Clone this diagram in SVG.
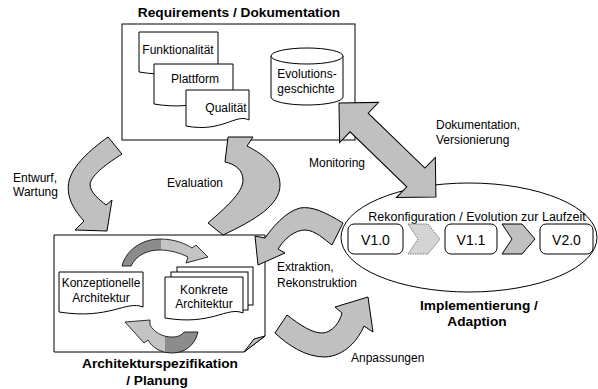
<svg xmlns="http://www.w3.org/2000/svg" width="598" height="389" viewBox="0 0 598 389">
<style>
.box{fill:#fff;stroke:#000;stroke-width:1}
.arr{fill:#c0c0c0;stroke:#000;stroke-width:1;stroke-linejoin:miter}
.t{font-family:"Liberation Sans",Arial,sans-serif;font-size:12px;fill:#000}
.c{text-anchor:middle}
.b{font-weight:bold;font-size:13.7px}
.v{font-size:14px}
</style>
<defs>
<linearGradient id="gTop" gradientUnits="userSpaceOnUse" x1="122" y1="0" x2="208" y2="0">
<stop offset="0" stop-color="#8c8c8c"/><stop offset="0.45" stop-color="#8c8c8c"/><stop offset="0.45" stop-color="#c4c4c4"/><stop offset="1" stop-color="#c4c4c4"/>
</linearGradient>
<linearGradient id="gBot" gradientUnits="userSpaceOnUse" x1="125" y1="0" x2="198" y2="0">
<stop offset="0" stop-color="#c4c4c4"/><stop offset="0.55" stop-color="#c4c4c4"/><stop offset="0.55" stop-color="#8c8c8c"/><stop offset="1" stop-color="#8c8c8c"/>
</linearGradient>
</defs>

<g id="requirements">
<rect class="box" x="122" y="24" width="233" height="116"/>
<text class="t c b" x="239" y="17">Requirements / Dokumentation</text>
<g id="doc-funktionalitaet">
<path class="box" d="M139,32 H218 V68 C202,60 186,80 139,72 Z"/>
<text class="t c" x="178" y="54">Funktionalität</text>
</g>
<g id="doc-plattform">
<path class="box" d="M154,64 H233 V100 C217,92 201,112 154,104 Z"/>
<text class="t c" x="195" y="83">Plattform</text>
</g>
<g id="doc-qualitaet">
<path class="box" d="M186,90 H249 V120 C236,113 222,133 186,126 Z"/>
<text class="t c" x="226" y="112">Qualität</text>
</g>
<g id="evolutionsgeschichte">
<path class="box" d="M271,56 V97 A36,8 0 0 0 343,97 V56"/>
<ellipse class="box" cx="307" cy="56" rx="36" ry="8"/>
<text class="t c" x="307" y="78">Evolutions-</text>
<text class="t c" x="306" y="93">geschichte</text>
</g>
</g>

<g id="architektur">
<path class="box" d="M54,235 H265 V336 L244,352 H54 Z"/>
<polygon points="244,352 265,336 254,339" fill="#c0c0c0" stroke="#000" stroke-width="1"/>
<text class="t c b" x="160" y="368">Architekturspezifikation</text>
<text class="t c b" x="157" y="385">/ Planung</text>
<g id="konzeptionelle">
<path class="box" d="M59,272 H143 V307 C126,300 110,320 59,312 Z"/>
<text class="t c" x="101" y="287">Konzeptionelle</text>
<text class="t c" x="101" y="302">Architektur</text>
</g>
<g id="konkrete">
<rect class="box" x="177" y="267" width="76" height="38"/>
<rect class="box" x="171" y="272" width="77" height="38"/>
<path class="box" d="M165,277 H243 V313 C227,306 212,326 165,318 Z"/>
<text class="t c" x="204" y="294">Konkrete</text>
<text class="t c" x="204" y="308">Architektur</text>
</g>
<g id="zyklus">
<path d="M122,266 C126,250 142,239 160,239 C175,239 186,244 192,248 L196,245 L208,257 L186,263 L188,257 C180,253 170,250 160,250 C146,250 136,256 131,266 Z" fill="url(#gTop)" stroke="#000" stroke-width="0.8"/>
<path d="M198,332 C195,346 184,353 172,353 C160,353 152,347 148,340 L144,343 L125,322 L150,320 L150,325 C154,332 162,337 172,337 C178,337 182,335 184,332 Z" fill="url(#gBot)" stroke="#000" stroke-width="0.8"/>
</g>
</g>

<g id="implementierung">
<ellipse class="box" cx="469" cy="237.5" rx="128" ry="54.5"/>
<text class="t c" x="477" y="221" style="font-size:12.5px">Rekonfiguration / Evolution zur Laufzeit</text>
<g id="v10"><rect class="box" x="348" y="224" width="55" height="30" rx="6"/><text class="t c v" x="375.5" y="245">V1.0</text></g>
<polygon points="408,224 428,224 440,239 428,254 408,254 418,239" fill="#d4d4d4" stroke="#777" stroke-width="1" stroke-dasharray="1.5,1"/>
<g id="v11"><rect class="box" x="445" y="224" width="52" height="30" rx="6"/><text class="t c v" x="471" y="245">V1.1</text></g>
<polygon points="502,224 522,224 535,239 522,254 502,254 512,239" fill="#c0c0c0" stroke="#000" stroke-width="1"/>
<g id="v20"><rect class="box" x="540" y="224" width="53" height="30" rx="6"/><text class="t c v" x="566.5" y="245">V2.0</text></g>
<text class="t c b" x="479" y="310">Implementierung /</text>
<text class="t c b" x="477" y="326">Adaption</text>
</g>

<g id="connectors">
<path class="arr" d="M108,137 L122,154 C108,163 92,174 90,184 C90,193 100,200 106,205 L112,200 L107,231 L75,230 L84,221 C72,208 66,195 69,181 C73,165 90,150 108,137 Z"/>
<path class="arr" d="M208,223 C225,208 243,193 243,180 C243,170 235,164 225,162 L228,137 L253,137 L247,146 C265,155 280,168 280,185 C280,205 255,220 223,235 Z"/>
<path class="arr" d="M343,223 C325,212 312,206 300,208 C285,212 272,228 265,238 L255,236 L258,265 L285,253 L278,249 C285,238 295,230 305,230 C315,230 325,240 332,245 Z"/>
<path class="arr" d="M287,315 C300,325 312,333 322,333 C332,333 340,322 342,313 L335,307 L368,297 L373,332 L364,326 C358,340 345,356 325,357 C305,357 288,345 275,333 Z"/>
<polygon class="arr" transform="translate(339,103) rotate(44.1)" points="0,0 28,-28 28,-13 107,-13 107,-28 135,0 107,28 107,13 28,13 28,28"/>
</g>

<g id="labels">
<text class="t" x="13" y="182">Entwurf,</text>
<text class="t" x="13" y="196">Wartung</text>
<text class="t" x="167" y="187">Evaluation</text>
<text class="t" x="309" y="167">Monitoring</text>
<text class="t" x="436" y="129">Dokumentation,</text>
<text class="t" x="436" y="144">Versionierung</text>
<text class="t" x="277" y="271">Extraktion,</text>
<text class="t" x="277" y="287">Rekonstruktion</text>
<text class="t" x="351" y="362">Anpassungen</text>
</g>
</svg>
